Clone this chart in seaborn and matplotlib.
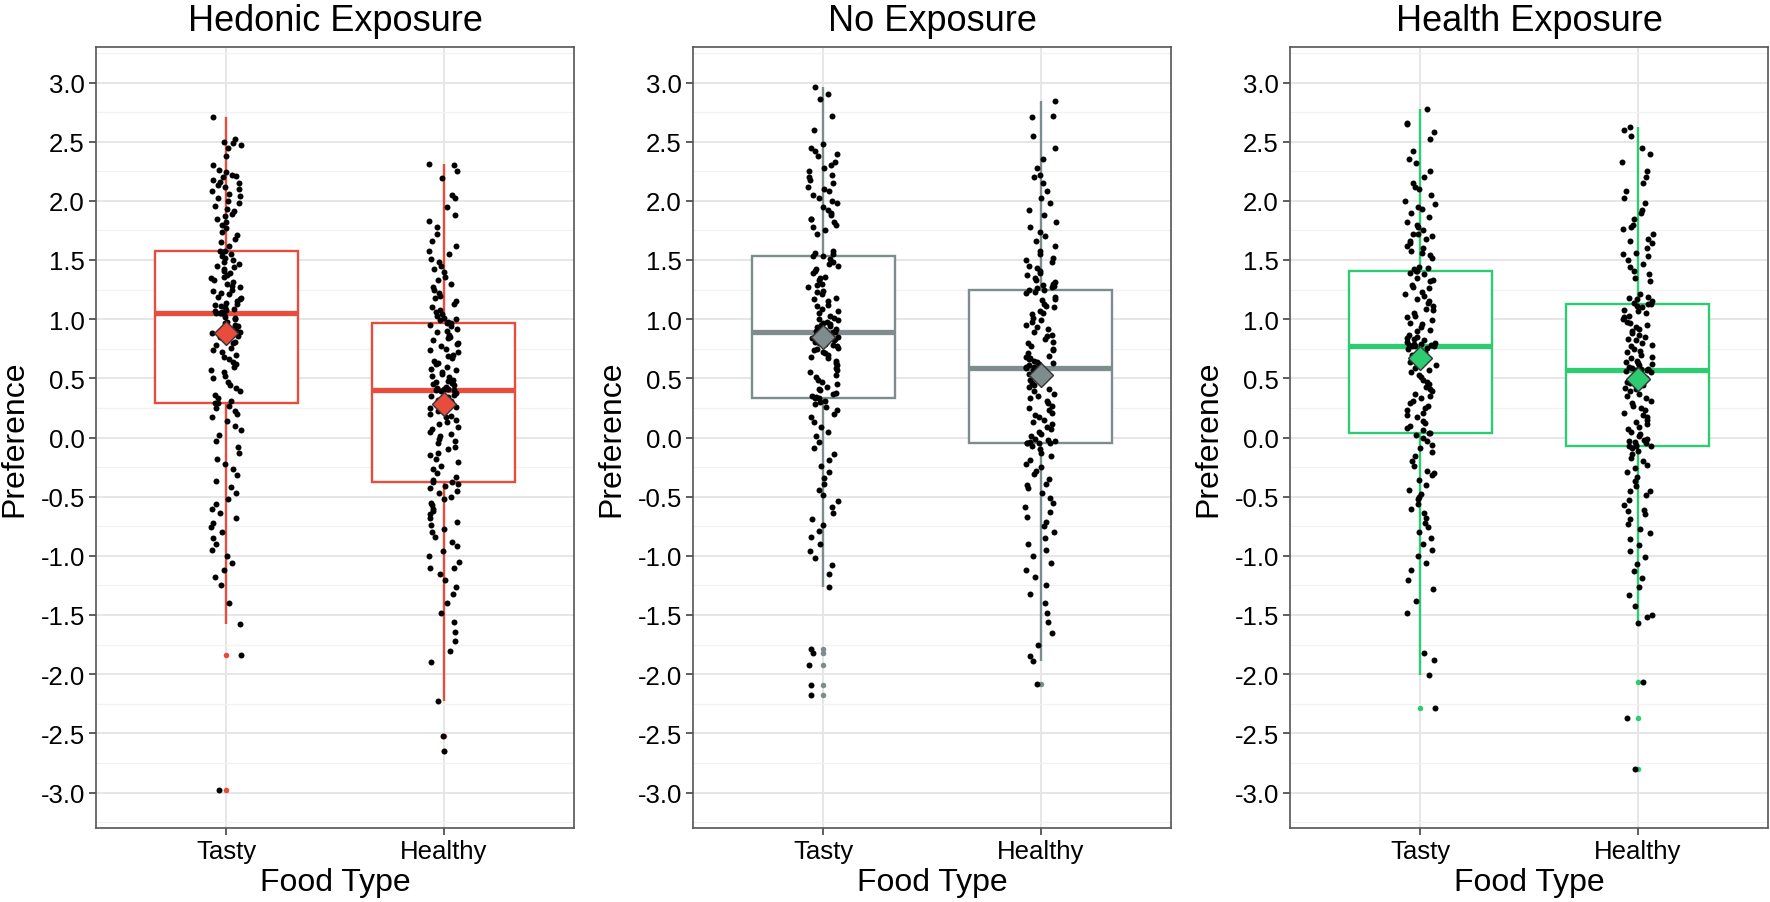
import numpy as np
import pandas as pd
import matplotlib
matplotlib.use("Agg")
import matplotlib.pyplot as plt
import seaborn as sns
from matplotlib.ticker import MultipleLocator, FormatStrFormatter

# ---------------- data ----------------
panel_titles = ["Hedonic Exposure", "No Exposure", "Health Exposure"]
food_types = ["Tasty", "Healthy"]
panel_colors = ["#E74C3C", "#7F8C8D", "#2ECC71"]

hedonic_tasty = [
    2.71, 2.52, 2.50, 2.49, 2.47, 2.45, 2.38, 2.30, 2.26, 2.24, 2.22, 2.21, 2.20, 2.18, 2.16, 2.15,
    2.13, 2.12, 2.10, 2.08, 2.06, 2.04, 2.02, 2.00, 1.98, 1.96, 1.93, 1.91, 1.89, 1.87, 1.85, 1.82,
    1.80, 1.77, 1.74, 1.71, 1.68, 1.65, 1.62, 1.58,
    1.58, 1.57, 1.55, 1.53, 1.52, 1.50, 1.48, 1.47, 1.45, 1.44, 1.42, 1.41, 1.39, 1.37, 1.36, 1.35,
    1.33, 1.31, 1.30, 1.28, 1.27, 1.25, 1.24, 1.22, 1.21, 1.19, 1.18, 1.17, 1.15, 1.14, 1.13, 1.12,
    1.11, 1.10, 1.09, 1.08, 1.07, 1.06, 1.05, 1.05,
    1.05, 1.04, 1.02, 1.01, 1.00, 0.98, 0.97, 0.95, 0.94, 0.92, 0.91, 0.89, 0.88, 0.86, 0.85, 0.83,
    0.81, 0.80, 0.78, 0.76, 0.74, 0.72, 0.70, 0.68, 0.66, 0.64, 0.62, 0.60, 0.57, 0.55, 0.52, 0.50,
    0.47, 0.44, 0.42, 0.39, 0.36, 0.33, 0.31, 0.29,
    0.29, 0.27, 0.25, 0.22, 0.20, 0.17, 0.14, 0.10, 0.06, 0.02, -0.03, -0.08, -0.13, -0.18, -0.22,
    -0.27, -0.32, -0.37, -0.42, -0.47, -0.52, -0.56, -0.60, -0.64, -0.68, -0.72, -0.76, -0.80, -0.85,
    -0.90, -0.95, -1.00, -1.06, -1.12, -1.18, -1.25, -1.40, -1.58, -1.84, -2.98,
]
hedonic_healthy = [
    2.31, 2.30, 2.25, 2.19, 2.05, 2.02, 1.95, 1.88, 1.83, 1.78, 1.72, 1.66, 1.62, 1.58, 1.55, 1.51,
    1.48, 1.45, 1.42, 1.40, 1.36, 1.33, 1.30, 1.27, 1.25, 1.22, 1.20, 1.18, 1.15, 1.13, 1.10, 1.08,
    1.06, 1.04, 1.03, 1.01, 1.00, 0.99, 0.98, 0.97,
    0.97, 0.95, 0.94, 0.92, 0.90, 0.89, 0.87, 0.85, 0.84, 0.82, 0.80, 0.79, 0.77, 0.75, 0.74, 0.72,
    0.70, 0.69, 0.67, 0.65, 0.63, 0.62, 0.60, 0.58, 0.57, 0.55, 0.54, 0.52, 0.51, 0.49, 0.48, 0.47,
    0.46, 0.45, 0.44, 0.43, 0.42, 0.41, 0.41, 0.40,
    0.40, 0.39, 0.38, 0.36, 0.35, 0.34, 0.32, 0.31, 0.29, 0.28, 0.26, 0.25, 0.23, 0.22, 0.20, 0.18,
    0.17, 0.15, 0.13, 0.11, 0.09, 0.07, 0.05, 0.03, 0.01, -0.01, -0.03, -0.05, -0.08, -0.10, -0.13,
    -0.15, -0.18, -0.21, -0.24, -0.27, -0.30, -0.33, -0.36, -0.38,
    -0.38, -0.39, -0.41, -0.43, -0.45, -0.47, -0.50, -0.52, -0.55, -0.57, -0.60, -0.62, -0.65, -0.68,
    -0.71, -0.74, -0.77, -0.80, -0.84, -0.88, -0.92, -0.96, -1.00, -1.05, -1.10, -1.15, -1.20, -1.26,
    -1.32, -1.40, -1.48, -1.56, -1.64, -1.72, -1.80, -1.90, -2.23, -2.52, -2.65, -1.10,
]
none_tasty = [
    2.96, 2.90, 2.86, 2.72, 2.60, 2.48, 2.45, 2.42, 2.40, 2.38, 2.33, 2.28, 2.25, 2.22, 2.18, 2.15,
    2.12, 2.08, 2.05, 2.02, 1.98, 1.95, 1.92, 1.88, 1.85, 1.82, 1.80, 1.78, 1.75, 1.72, 2.30, 2.20,
    2.10, 2.00, 1.90, 1.85, 1.58, 1.56, 1.55, 1.53,
    1.53, 1.51, 1.48, 1.47, 1.45, 1.42, 1.41, 1.39, 1.36, 1.35, 1.33, 1.30, 1.29, 1.27, 1.24, 1.23,
    1.21, 1.18, 1.17, 1.15, 1.12, 1.11, 1.09, 1.07, 1.05, 1.03, 1.01, 1.00, 0.99, 0.98, 0.97, 0.96,
    0.95, 0.94, 0.93, 0.92, 0.91, 0.90, 0.90, 0.89,
    0.89, 0.88, 0.87, 0.86, 0.85, 0.84, 0.83, 0.82, 0.81, 0.80, 0.79, 0.78, 0.77, 0.76, 0.75, 0.74,
    0.72, 0.71, 0.70, 0.68, 0.67, 0.65, 0.63, 0.61, 0.59, 0.57, 0.55, 0.53, 0.51, 0.49, 0.47, 0.45,
    0.43, 0.41, 0.40, 0.38, 0.37, 0.35, 0.34, 0.33,
    0.33, 0.31, 0.28, 0.26, 0.23, 0.20, 0.17, 0.13, 0.09, 0.05, 0.30, 0.01, -0.04, -0.09, -0.14,
    -0.19, -0.24, -0.29, -0.34, -0.39, -0.44, -0.49, -0.54, -0.59, -0.64, -0.69, -0.74, -0.79, -0.84,
    -0.90, -0.96, -1.02, -1.08, -1.15, -1.26, -1.79, -1.82, -1.92, -2.09, -2.18,
]
none_healthy = [
    2.84, 2.72, 2.71, 2.55, 2.45, 2.35, 2.28, 2.22, 2.20, 2.15, 2.08, 2.02, 1.98, 1.92, 1.88, 1.82,
    1.78, 1.74, 1.70, 1.66, 1.62, 1.58, 1.55, 1.52, 1.50, 1.48, 1.45, 1.43, 1.41, 1.39, 1.37, 1.35,
    1.33, 1.31, 1.30, 1.29, 1.28, 1.27, 1.26, 1.25,
    1.25, 1.23, 1.22, 1.19, 1.17, 1.16, 1.13, 1.11, 1.10, 1.07, 1.05, 1.04, 1.01, 0.99, 0.98, 0.95,
    0.93, 0.92, 0.89, 0.87, 0.86, 0.83, 0.81, 0.80, 0.77, 0.75, 0.74, 0.71, 0.69, 0.68, 0.67, 0.66,
    0.65, 0.64, 0.63, 0.62, 0.61, 0.60, 0.60, 0.59,
    0.59, 0.58, 0.57, 0.55, 0.54, 0.52, 0.51, 0.49, 0.48, 0.46, 0.44, 0.43, 0.41, 0.39, 0.37, 0.35,
    0.33, 0.31, 0.29, 0.27, 0.25, 0.23, 0.21, 0.19, 0.17, 0.15, 0.13, 0.11, 0.09, 0.07, 0.05, 0.03,
    0.01, -0.01, -0.02, -0.03, -0.04, -0.05, -0.05, -0.05,
    -0.05, -0.07, -0.10, -0.13, -0.16, -0.19, -0.22, -0.25, -0.28, -0.31, -0.35, -0.39, -0.43, -0.47,
    -0.51, -0.55, -0.59, -0.63, -0.67, -0.71, -0.75, -0.80, -0.85, -0.90, -0.95, -1.00, -1.06, -1.12,
    -1.18, -1.25, -1.32, -1.40, -1.48, -1.56, -1.65, -1.75, -1.85, -1.89, -2.08, -0.40,
]
health_tasty = [
    2.78, 2.66, 2.65, 2.58, 2.52, 2.42, 2.32, 2.25, 2.20, 2.15, 2.10, 2.05, 2.00, 1.97, 1.93, 1.90,
    1.86, 1.82, 1.78, 1.75, 1.72, 1.70, 1.68, 1.66, 1.64, 1.62, 1.60, 1.58, 1.56, 1.54, 1.52, 2.35,
    2.12, 1.95, 1.80, 1.72, 1.44, 1.43, 1.42, 1.41,
    1.41, 1.39, 1.38, 1.35, 1.33, 1.32, 1.29, 1.27, 1.26, 1.23, 1.21, 1.20, 1.17, 1.15, 1.14, 1.11,
    1.09, 1.08, 1.05, 1.03, 1.02, 0.99, 0.97, 0.96, 0.93, 0.91, 0.90, 0.87, 0.85, 0.84, 0.83, 0.82,
    0.81, 0.80, 0.79, 0.79, 0.78, 0.78, 0.77, 0.77,
    0.77, 0.76, 0.75, 0.73, 0.72, 0.70, 0.69, 0.67, 0.66, 0.64, 0.62, 0.61, 0.59, 0.57, 0.55, 0.53,
    0.51, 0.49, 0.47, 0.45, 0.43, 0.41, 0.39, 0.37, 0.35, 0.33, 0.31, 0.29, 0.27, 0.25, 0.23, 0.21,
    0.19, 0.17, 0.14, 0.12, 0.10, 0.08, 0.06, 0.04,
    0.04, 0.02, 0.00, -0.03, -0.06, -0.09, -0.12, -0.16, -0.20, -0.24, -0.28, -0.32, -0.36, -0.40,
    -0.44, -0.48, -0.52, -0.56, -0.60, -0.64, -0.68, -0.72, -0.76, -0.80, -0.85, -0.90, -0.95, -1.00,
    -1.06, -1.12, -1.20, -1.28, -1.38, -1.48, -1.82, -1.88, -2.01, -2.29, -0.30, -0.50,
]
health_healthy = [
    2.62, 2.60, 2.55, 2.45, 2.40, 2.33, 2.25, 2.20, 2.15, 2.08, 2.02, 1.98, 1.92, 1.85, 1.80, 1.76,
    1.72, 1.68, 1.64, 1.60, 1.56, 1.53, 1.50, 1.47, 1.44, 1.41, 1.38, 1.35, 1.32, 1.90, 1.78, 1.66,
    1.55, 1.21, 1.19, 1.18, 1.17, 1.15, 1.14, 1.13,
    1.13, 1.11, 1.10, 1.08, 1.07, 1.05, 1.03, 1.02, 1.00, 0.98, 0.97, 0.95, 0.93, 0.92, 0.90, 0.88,
    0.87, 0.85, 0.83, 0.82, 0.80, 0.78, 0.77, 0.75, 0.73, 0.72, 0.70, 0.68, 0.67, 0.65, 0.64, 0.63,
    0.62, 0.61, 0.60, 0.59, 0.58, 0.58, 0.57, 0.57,
    0.57, 0.56, 0.55, 0.53, 0.52, 0.50, 0.49, 0.47, 0.46, 0.44, 0.42, 0.41, 0.39, 0.37, 0.35, 0.33,
    0.31, 0.29, 0.27, 0.25, 0.23, 0.21, 0.19, 0.17, 0.15, 0.13, 0.11, 0.09, 0.07, 0.05, 0.03, 0.01,
    -0.01, -0.02, -0.03, -0.04, -0.05, -0.06, -0.07, -0.07,
    -0.07, -0.09, -0.11, -0.14, -0.17, -0.20, -0.23, -0.26, -0.29, -0.33, -0.37, -0.41, -0.45, -0.49,
    -0.53, -0.57, -0.61, -0.65, -0.69, -0.73, -0.77, -0.81, -0.86, -0.91, -0.96, -1.01, -1.07, -1.13,
    -1.19, -1.26, -1.33, -1.42, -1.50, -1.52, -1.57, -2.07, -2.37, -2.80, -0.45, -0.62,
]

panel_data = [
    (hedonic_tasty, hedonic_healthy),
    (none_tasty, none_healthy),
    (health_tasty, health_healthy),
]

# ---------------- style ----------------
sns.set_style("white")
plt.rcParams["font.family"] = ["Liberation Sans", "DejaVu Sans"]
plt.rcParams["axes.unicode_minus"] = False
plt.rcParams["text.color"] = "black"
plt.rcParams["axes.labelcolor"] = "black"

np.random.seed(7)

W, H = 1770, 903
fig = plt.figure(figsize=(W / 100, H / 100), dpi=100)
lefts = [96, 693, 1290]
ax_w, ax_top, ax_bot = 478, 48, 829

for i, (title, color, (tasty, healthy)) in enumerate(zip(panel_titles, panel_colors, panel_data)):
    ax = fig.add_axes([lefts[i] / W, (H - ax_bot) / H, ax_w / W, (ax_bot - ax_top) / H])
    df = pd.DataFrame({
        "Food Type": [food_types[0]] * len(tasty) + [food_types[1]] * len(healthy),
        "Preference": list(tasty) + list(healthy),
    })

    sns.boxplot(
        data=df, x="Food Type", y="Preference", order=food_types, ax=ax,
        color="white", linecolor=color, linewidth=1.7, width=0.66,
        showcaps=False,
        flierprops=dict(marker="o", markersize=4, markerfacecolor=color,
                        markeredgecolor=color, markeredgewidth=0),
        medianprops=dict(color=color, linewidth=3.8),
        whiskerprops=dict(color=color, linewidth=1.7),
        boxprops=dict(edgecolor=color, facecolor="white", linewidth=1.7),
    )
    sns.stripplot(
        data=df, x="Food Type", y="Preference", order=food_types, ax=ax,
        color="black", size=4.3, jitter=0.07, linewidth=0, zorder=3,
    )
    sns.pointplot(
        data=df, x="Food Type", y="Preference", order=food_types, ax=ax,
        estimator="mean", errorbar=None, color=color, markers="D",
        linestyles="none", markersize=12.5, markeredgecolor="#333333",
        markeredgewidth=1.0, zorder=5,
    )

    ax.set_xlim(-0.6, 1.6)
    ax.set_ylim(-3.3, 3.3)
    ax.yaxis.set_major_locator(MultipleLocator(0.5))
    ax.yaxis.set_minor_locator(MultipleLocator(0.25))
    ax.yaxis.set_major_formatter(FormatStrFormatter("%.1f"))
    ax.set_axisbelow(True)
    ax.grid(True, which="major", axis="both", color="#E6E6E6", linewidth=1.4)
    ax.grid(True, which="minor", axis="y", color="#F2F2F2", linewidth=0.9)
    for sp in ax.spines.values():
        sp.set_visible(True)
        sp.set_color("#555555")
        sp.set_linewidth(1.2)
    ax.tick_params(which="major", bottom=True, left=True, direction="out", length=5,
                   width=1.1, color="#333333", labelsize=18.5, labelcolor="black", pad=3)
    ax.tick_params(which="minor", length=0)
    ax.set_xlabel("Food Type", fontsize=23, labelpad=3, color="black")
    ax.set_ylabel("Preference", fontsize=23, labelpad=8, color="black")
    ax.set_title(title, fontsize=26, pad=12, color="black")

fig.savefig("out.png", dpi=100, facecolor="white")
